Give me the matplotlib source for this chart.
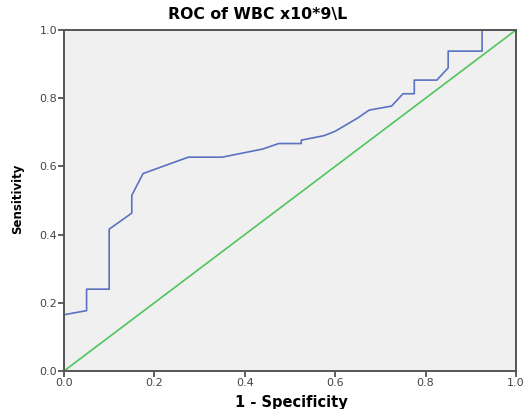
import matplotlib
matplotlib.use('Agg')
import matplotlib.pyplot as plt

# ROC curve points (1 - specificity, sensitivity)
fpr = [0.0, 0.0, 0.05, 0.05, 0.10, 0.10, 0.15, 0.15, 0.175, 0.275, 0.35,
       0.44, 0.475, 0.525, 0.525, 0.575, 0.60, 0.65, 0.675, 0.725, 0.75,
       0.775, 0.775, 0.825, 0.85, 0.85, 0.925, 0.925, 1.0]
tpr = [0.0, 0.165, 0.177, 0.240, 0.240, 0.416, 0.463, 0.515, 0.579, 0.627, 0.627,
       0.651, 0.667, 0.667, 0.677, 0.690, 0.703, 0.742, 0.765, 0.777, 0.813,
       0.813, 0.853, 0.853, 0.889, 0.938, 0.938, 1.0, 1.0]
ref = [0.0, 1.0]
ticks = [0.0, 0.2, 0.4, 0.6, 0.8, 1.0]
tick_labels = ['0.0', '0.2', '0.4', '0.6', '0.8', '1.0']

plt.rcParams['font.family'] = ['DejaVu Sans']

fig = plt.figure(figsize=(5.24, 4.09), dpi=100)
ax = fig.add_axes([0.1221, 0.0929, 0.8626, 0.8338])
ax.set_facecolor('#f0f0f0')

ax.plot(ref, ref, color='#4fc55c', lw=1.2)
ax.plot(fpr, tpr, color='#5a72c0', lw=1.2)

ax.set_xlim(0, 1)
ax.set_ylim(0, 1)
ax.set_xticks(ticks)
ax.set_xticklabels(tick_labels)
ax.set_yticks(ticks)
ax.set_yticklabels(tick_labels)
ax.tick_params(labelsize=8, colors='#444444', length=4, width=1.2, pad=1)
for s in ax.spines.values():
    s.set_color('#555555')
    s.set_linewidth(1.4)

fig.text(258 / 524, 1 - 15 / 409, 'ROC of WBC x10*9\\L', ha='center', va='center',
         fontsize=11.3, fontweight='bold')
fig.text(291 / 524, 1 - 403 / 409, '1 - Specificity', ha='center', va='center',
         fontsize=10.5, fontweight='bold')
fig.text(18 / 524, 1 - 199 / 409, 'Sensitivity', ha='center', va='center',
         fontsize=8.5, fontweight='bold', rotation=90)

fig.savefig('out.png', dpi=100)
